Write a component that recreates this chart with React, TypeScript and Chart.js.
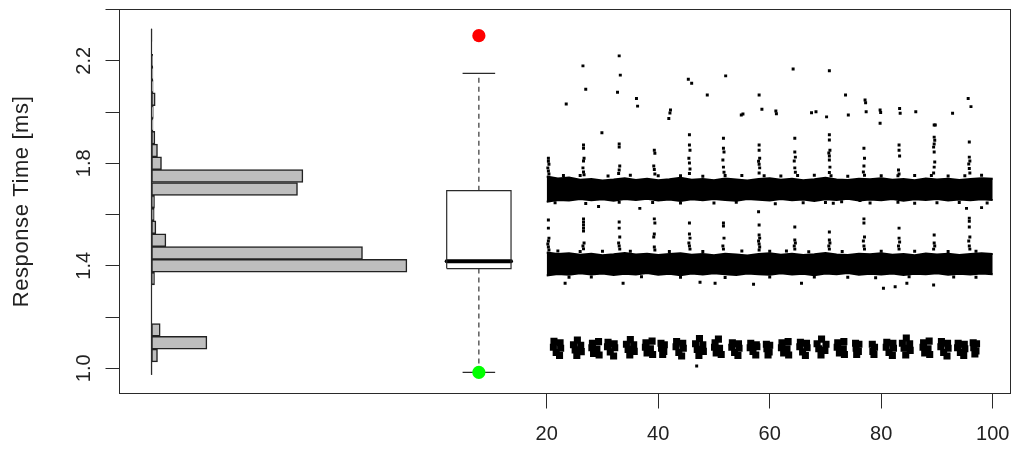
import React, { useEffect, useRef } from "react";
import { Chart, registerables } from "chart.js";

Chart.register(...registerables);

// ---------- axes ----------
const X_TICKS = [20, 40, 60, 80, 100];
const X_LABELS = ["20", "40", "60", "80", "100"];
const Y_TICKS = [1.0, 1.2, 1.4, 1.6, 1.8, 2.0, 2.2, 2.4];
const Y_LABELS = ["1.0", "", "1.4", "", "1.8", "", "2.2", ""];
const Y_TITLE = "Response Time [ms]";

// ---------- histogram (horizontal) ----------
const HIST_BINS = [1.0, 1.05, 1.1, 1.15, 1.35, 1.4, 1.45, 1.5, 1.55, 1.6, 1.65, 1.7, 1.75, 1.8, 1.85, 1.9, 1.95, 2.0, 2.05, 2.1, 2.15, 2.2, 2.3];
const HIST_COUNTS = [5, 60, 554, 87, 30, 2554, 2110, 144, 44, 27, 30, 1460, 1514, 100, 60, 34, 15, 18, 37, 16, 14, 12, 5];
const HIST_RANGE = [0.975, 2.325];

// ---------- boxplot ----------
const BOX_POS = [7.83];
const BOX_STATS = [0.984, 1.389, 1.4175, 1.693, 2.151]; // lower whisker, Q1, median, Q3, upper whisker
const BOX_MAX = [2.298];
const BOX_MIN = [0.984];

// ---------- dense bands (envelopes) ----------
const BAND_X = [20, 22, 24, 26, 28, 30, 32, 34, 36, 38, 40, 42, 44, 46, 48, 50, 52, 54, 56, 58, 60, 62, 64, 66, 68, 70, 72, 74, 76, 78, 80, 82, 84, 86, 88, 90, 92, 94, 96, 98, 100];
const UPPER_TOP = [1.748, 1.741, 1.744, 1.736, 1.739, 1.733, 1.737, 1.742, 1.735, 1.74, 1.734, 1.738, 1.743, 1.736, 1.739, 1.734, 1.741, 1.737, 1.733, 1.739, 1.742, 1.736, 1.74, 1.734, 1.738, 1.743, 1.737, 1.735, 1.74, 1.738, 1.742, 1.736, 1.739, 1.734, 1.741, 1.737, 1.74, 1.735, 1.739, 1.742, 1.74];
const UPPER_BOTTOM = [1.65, 1.657, 1.655, 1.661, 1.656, 1.66, 1.654, 1.661, 1.657, 1.662, 1.655, 1.659, 1.653, 1.66, 1.656, 1.661, 1.657, 1.654, 1.661, 1.658, 1.655, 1.661, 1.656, 1.659, 1.653, 1.66, 1.657, 1.662, 1.655, 1.659, 1.656, 1.661, 1.654, 1.66, 1.657, 1.661, 1.655, 1.659, 1.656, 1.66, 1.657];
const LOWER_TOP = [1.452, 1.446, 1.449, 1.443, 1.447, 1.441, 1.445, 1.45, 1.444, 1.447, 1.442, 1.446, 1.449, 1.443, 1.446, 1.441, 1.447, 1.444, 1.44, 1.446, 1.449, 1.443, 1.447, 1.442, 1.445, 1.45, 1.444, 1.442, 1.447, 1.445, 1.449, 1.443, 1.446, 1.441, 1.448, 1.444, 1.447, 1.442, 1.446, 1.449, 1.446];
const LOWER_BOTTOM = [1.362, 1.368, 1.365, 1.371, 1.366, 1.37, 1.364, 1.369, 1.366, 1.372, 1.365, 1.369, 1.363, 1.37, 1.366, 1.371, 1.367, 1.364, 1.37, 1.367, 1.365, 1.371, 1.366, 1.369, 1.363, 1.37, 1.367, 1.372, 1.365, 1.369, 1.366, 1.37, 1.364, 1.369, 1.367, 1.371, 1.365, 1.369, 1.366, 1.37, 1.367];

// ---------- individual points ----------
const UPPER_SPIKES: number[][] = [
  [20.3, 1.82], [20.3, 1.808], [20.4, 1.796], [20.2, 1.782], [20.3, 1.77], [20.4, 1.758],
  [26.6, 1.871], [26.6, 1.859], [26.7, 1.82], [26.6, 1.809], [26.5, 1.782], [26.6, 1.766], [26.7, 1.755],
  [33.0, 1.875], [33.0, 1.863], [33.1, 1.789], [33.0, 1.774], [32.9, 1.76],
  [39.3, 1.851], [39.4, 1.839], [39.2, 1.789], [39.3, 1.776], [39.4, 1.758],
  [45.6, 1.911], [45.6, 1.871], [45.7, 1.851], [45.5, 1.82], [45.6, 1.801], [45.7, 1.778], [45.6, 1.76],
  [51.7, 1.898], [51.7, 1.859], [51.8, 1.844], [51.6, 1.813], [51.7, 1.785], [51.8, 1.765],
  [58.1, 1.871], [58.1, 1.851], [58.2, 1.82], [58.0, 1.808], [58.1, 1.796], [58.2, 1.782], [58.1, 1.762],
  [64.5, 1.898], [64.5, 1.844], [64.6, 1.824], [64.4, 1.809], [64.5, 1.782], [64.6, 1.765],
  [70.7, 1.911], [70.7, 1.891], [70.8, 1.851], [70.6, 1.84], [70.7, 1.828], [70.7, 1.813], [70.8, 1.785], [70.7, 1.764],
  [76.9, 1.859], [77.0, 1.82], [76.9, 1.789], [76.8, 1.766],
  [83.2, 1.871], [83.2, 1.851], [83.3, 1.828], [83.1, 1.774], [83.2, 1.758],
  [89.5, 1.949], [89.5, 1.902], [89.6, 1.89], [89.5, 1.875], [89.4, 1.863], [89.5, 1.844], [89.6, 1.805], [89.5, 1.785], [89.4, 1.762],
  [95.8, 1.883], [95.8, 1.824], [95.9, 1.809], [95.7, 1.797], [95.8, 1.78], [95.9, 1.762],
];
const LOWER_SPIKES: number[][] = [
  [20.3, 1.579], [20.3, 1.547], [20.4, 1.508], [20.3, 1.497], [20.2, 1.485], [20.3, 1.473], [20.4, 1.462],
  [26.6, 1.583], [26.6, 1.571], [26.6, 1.559], [26.6, 1.547], [26.6, 1.536], [26.7, 1.489], [26.5, 1.477], [26.6, 1.466],
  [33.0, 1.571], [33.0, 1.547], [33.1, 1.512], [32.9, 1.489], [33.0, 1.477], [33.1, 1.465],
  [39.3, 1.583], [39.4, 1.567], [39.3, 1.524], [39.2, 1.512], [39.3, 1.473], [39.4, 1.462],
  [45.6, 1.567], [45.6, 1.524], [45.7, 1.508], [45.5, 1.489], [45.6, 1.477], [45.7, 1.465],
  [51.7, 1.567], [51.7, 1.555], [51.8, 1.508], [51.6, 1.477], [51.7, 1.465],
  [58.1, 1.559], [58.1, 1.52], [58.2, 1.508], [58.0, 1.497], [58.1, 1.485], [58.2, 1.473], [58.1, 1.462],
  [64.5, 1.551], [64.5, 1.501], [64.6, 1.489], [64.4, 1.477], [64.5, 1.465],
  [70.7, 1.532], [70.7, 1.501], [70.8, 1.489], [70.6, 1.477], [70.7, 1.465],
  [76.9, 1.583], [76.9, 1.567], [77.0, 1.512], [76.8, 1.497], [76.9, 1.477], [77.0, 1.465],
  [83.2, 1.547], [83.2, 1.508], [83.3, 1.493], [83.1, 1.477], [83.2, 1.465],
  [89.5, 1.52], [89.5, 1.489], [89.6, 1.477], [89.4, 1.465],
  [95.8, 1.586], [95.8, 1.574], [95.8, 1.551], [95.9, 1.512], [95.7, 1.497], [95.8, 1.477], [95.9, 1.465],
];
const HIGH_OUTLIERS: number[][] = [
  [23.5, 2.031], [26.5, 2.18], [27.0, 2.089], [29.9, 1.919], [33.0, 2.219], [33.2, 2.144], [32.7, 2.077],
  [36.1, 2.053], [36.3, 2.023], [41.9, 1.975], [42.2, 2.008], [42.1, 1.996], [45.4, 2.128], [46.0, 2.112],
  [48.8, 2.066], [52.1, 2.141], [54.9, 1.988], [55.2, 1.992], [58.1, 2.066], [58.6, 2.011], [61.1, 2.004],
  [61.2, 1.993], [64.2, 2.168], [67.5, 1.997], [68.3, 2.001], [70.2, 1.981], [70.7, 2.161], [73.6, 2.066],
  [74.1, 1.988], [77.1, 2.047], [77.2, 2.036], [77.3, 2.001], [79.8, 2.008], [79.9, 1.998], [79.8, 1.956],
  [83.3, 2.014], [83.4, 1.995], [86.2, 2.001], [89.7, 1.949], [92.8, 1.995], [95.6, 2.053], [96.1, 2.021],
];
const MID_OUTLIERS: number[][] = [
  [29.3, 1.631], [36.7, 1.624], [58.0, 1.611], [71.4, 1.644], [72.9, 1.65], [76.2, 1.655], [95.3, 1.624], [98.0, 1.627],
  [27.0, 1.643], [44.0, 1.645], [61.0, 1.642], [86.0, 1.644],
  [21.5, 1.646], [33.0, 1.648], [39.0, 1.647], [50.0, 1.645], [54.0, 1.648], [66.0, 1.646], [70.0, 1.647],
  [78.0, 1.645], [83.0, 1.648], [90.0, 1.646], [94.0, 1.647], [99.0, 1.645],
  [23.0, 1.752], [31.0, 1.75], [40.0, 1.751], [48.0, 1.749], [55.0, 1.752], [62.0, 1.75], [68.0, 1.753],
  [74.0, 1.749], [80.0, 1.751], [86.0, 1.752], [92.0, 1.75], [98.0, 1.753],
  [26.0, 1.752], [35.0, 1.753], [44.0, 1.751], [52.0, 1.752], [59.0, 1.751], [65.0, 1.752], [71.0, 1.751],
  [77.0, 1.753], [83.0, 1.751], [89.0, 1.752], [95.0, 1.751],
];
const LOW_OUTLIERS: number[][] = [
  [23.3, 1.332], [33.7, 1.332], [47.5, 1.336], [50.2, 1.332], [57.1, 1.328], [65.7, 1.332], [80.4, 1.312],
  [82.5, 1.318], [84.6, 1.332], [89.4, 1.325], [24.0, 1.355], [37.0, 1.357], [52.0, 1.354], [68.0, 1.356],
  [79.0, 1.353], [93.0, 1.356], [46.9, 1.009],
  [28.0, 1.356], [44.0, 1.355], [60.0, 1.356], [74.0, 1.355], [85.0, 1.357], [97.0, 1.355],
  [30.0, 1.457], [42.0, 1.456], [55.0, 1.458], [67.0, 1.455], [80.0, 1.457], [92.0, 1.456],
  [22.0, 1.458], [26.0, 1.456], [35.0, 1.457], [48.0, 1.456], [60.0, 1.457], [63.0, 1.458], [73.0, 1.456],
  [86.0, 1.457], [97.0, 1.457],
];
const LOW_CLUMPS: number[][] = [
  [21.3, 1.105], [22.4, 1.1], [21.2, 1.082], [22.5, 1.078], [21.7, 1.062], [22.3, 1.05],
  [25.5, 1.11], [24.8, 1.092], [26.1, 1.09], [25.1, 1.072], [26.2, 1.065], [25.4, 1.05],
  [28.2, 1.098], [29.3, 1.104], [28.1, 1.08], [29.0, 1.075], [28.4, 1.058], [29.4, 1.052],
  [31.0, 1.102], [32.1, 1.096], [30.9, 1.084], [32.2, 1.08], [31.4, 1.064], [32.0, 1.048],
  [35.0, 1.112], [34.3, 1.094], [35.6, 1.092], [34.6, 1.074], [35.7, 1.066], [34.9, 1.052],
  [37.8, 1.1], [38.9, 1.106], [37.7, 1.082], [38.6, 1.076], [38.0, 1.06], [39.0, 1.054],
  [40.5, 1.098], [41.1, 1.092], [40.6, 1.078], [41.0, 1.066], [40.8, 1.054],
  [43.3, 1.104], [44.4, 1.098], [43.2, 1.084], [44.5, 1.078], [43.7, 1.062], [44.2, 1.048],
  [47.4, 1.116], [46.7, 1.096], [48.0, 1.092], [47.0, 1.074], [48.1, 1.066], [47.3, 1.05],
  [50.2, 1.1], [50.8, 1.114], [50.1, 1.082], [51.0, 1.078], [50.4, 1.06], [51.3, 1.054],
  [53.3, 1.1], [54.4, 1.096], [53.2, 1.082], [54.5, 1.078], [53.7, 1.062], [54.3, 1.05],
  [56.6, 1.098], [57.6, 1.092], [56.5, 1.08], [57.7, 1.084], [57.0, 1.066], [57.5, 1.052],
  [59.4, 1.094], [60.0, 1.09], [59.5, 1.076], [59.9, 1.064], [59.7, 1.052],
  [62.2, 1.1], [63.3, 1.104], [62.1, 1.08], [63.1, 1.076], [62.5, 1.06], [63.4, 1.052],
  [65.5, 1.102], [66.6, 1.098], [65.4, 1.084], [66.7, 1.08], [65.9, 1.064], [66.4, 1.05],
  [69.3, 1.114], [68.5, 1.096], [70.1, 1.094], [68.8, 1.076], [69.9, 1.07], [69.2, 1.052],
  [72.2, 1.1], [73.3, 1.104], [72.1, 1.082], [73.2, 1.076], [72.5, 1.06], [73.4, 1.054],
  [75.4, 1.098], [76.0, 1.094], [75.5, 1.078], [75.9, 1.066], [75.6, 1.054],
  [78.4, 1.094], [78.8, 1.082], [78.5, 1.066], [78.7, 1.054],
  [81.0, 1.102], [82.1, 1.098], [80.9, 1.082], [82.2, 1.078], [81.4, 1.062], [82.0, 1.05],
  [84.5, 1.118], [83.8, 1.098], [85.1, 1.096], [84.1, 1.078], [85.2, 1.07], [84.4, 1.052],
  [87.6, 1.1], [88.6, 1.106], [87.5, 1.082], [88.4, 1.076], [87.8, 1.06], [88.7, 1.054],
  [90.8, 1.104], [91.9, 1.098], [90.7, 1.084], [92.0, 1.078], [91.2, 1.062], [91.8, 1.048],
  [93.8, 1.098], [94.9, 1.094], [93.7, 1.08], [95.0, 1.076], [94.2, 1.062], [94.8, 1.05],
  [96.5, 1.1], [97.1, 1.096], [96.6, 1.08], [97.0, 1.068], [96.8, 1.056],
];

// ---------- geometry (styles/sizes, not data) ----------
const CANVAS_W = 1013;
const CANVAS_H = 453;
const BOX_HALF = 5.77;
const CAP_HALF = 2.92;
const INK = "#2a2a2a";
const FONT = '"Liberation Sans", Arial, Helvetica, sans-serif';

const toPts = (arr: number[][]) => arr.map(([x, y]) => ({ x, y }));

const axesPlugin = {
  id: "rStyleAxes",
  afterDraw(chart: any) {
    const { ctx, chartArea: a, scales } = chart;
    const xs = scales.x;
    const ys = scales.y;
    ctx.save();
    ctx.strokeStyle = INK;
    ctx.lineWidth = 1;
    ctx.strokeRect(a.left, a.top, a.right - a.left, a.bottom - a.top);
    ctx.beginPath();
    Y_TICKS.forEach((v) => {
      const p = Math.round(ys.getPixelForValue(v) - 0.5) + 0.5;
      ctx.moveTo(a.left - 14, p);
      ctx.lineTo(a.left, p);
    });
    X_TICKS.forEach((v) => {
      const p = Math.round(xs.getPixelForValue(v) - 0.5) + 0.5;
      ctx.moveTo(p, a.bottom);
      ctx.lineTo(p, a.bottom + 15);
    });
    ctx.stroke();

    ctx.fillStyle = "#222222";
    ctx.font = `20px ${FONT}`;
    ctx.textAlign = "center";
    ctx.textBaseline = "alphabetic";
    X_TICKS.forEach((v, i) => {
      ctx.fillText(X_LABELS[i], xs.getPixelForValue(v), 440);
    });
    Y_TICKS.forEach((v, i) => {
      if (!Y_LABELS[i]) return;
      ctx.save();
      ctx.translate(90, ys.getPixelForValue(v));
      ctx.rotate(-Math.PI / 2);
      ctx.fillText(Y_LABELS[i], 0, 0);
      ctx.restore();
    });
    ctx.save();
    ctx.translate(28, (a.top + a.bottom) / 2);
    ctx.rotate(-Math.PI / 2);
    ctx.font = `22px ${FONT}`;
    (ctx as any).letterSpacing = "0.6px";
    ctx.fillText(Y_TITLE, 0, 0);
    ctx.restore();
    ctx.restore();
  },
};

export default function App() {
  const ref = useRef<HTMLCanvasElement | null>(null);

  useEffect(() => {
    if (!ref.current) return;
    const c = BOX_POS[0];
    const [wLo, q1, med, q3, wHi] = BOX_STATS;
    const seg = (pts: { x: number; y: number }[], extra: any = {}) => ({
      type: "line",
      data: pts,
      borderColor: INK,
      borderWidth: 1.2,
      pointRadius: 0,
      fill: false,
      tension: 0,
      order: 2,
      ...extra,
    });
    const dots = (arr: number[][], r: number) => ({
      type: "scatter",
      data: toPts(arr),
      pointStyle: "rect",
      pointRadius: r,
      pointBorderWidth: 0,
      backgroundColor: "#000000",
      borderColor: "#000000",
      order: 3,
    });
    const band = (vals: number[], fill: any) => ({
      type: "line",
      data: BAND_X.map((x, i) => ({ x, y: vals[i] })),
      borderColor: "#000000",
      backgroundColor: "#000000",
      borderWidth: 2,
      pointRadius: 0,
      tension: 0,
      fill,
      order: 6,
    });

    const chart = new Chart(ref.current, {
      type: "scatter",
      data: {
        datasets: [
          // histogram
          {
            type: "bar",
            indexAxis: "y",
            xAxisID: "xh",
            yAxisID: "y",
            data: HIST_BINS.map((b, i) => ({ y: b, x: [0, HIST_COUNTS[i]] })),
            backgroundColor: "#BEBEBE",
            borderColor: "#222222",
            borderWidth: 1.5,
            borderSkipped: false,
            grouped: false,
            barPercentage: 1,
            categoryPercentage: 1,
            order: 5,
          } as any,
          seg([{ x: 0, y: HIST_RANGE[0] }, { x: 0, y: HIST_RANGE[1] }], { xAxisID: "xh", order: 4 }),
          // bands: top fills down to bottom (next dataset)
          band(UPPER_TOP, "+1") as any,
          band(UPPER_BOTTOM, false) as any,
          band(LOWER_TOP, "+1") as any,
          band(LOWER_BOTTOM, false) as any,
          // scatter points
          dots(UPPER_SPIKES, 2.1) as any,
          dots(LOWER_SPIKES, 2.1) as any,
          dots(HIGH_OUTLIERS, 2.1) as any,
          dots(MID_OUTLIERS, 2.1) as any,
          dots(LOW_OUTLIERS, 2.1) as any,
          dots(LOW_CLUMPS, 5) as any,
          // boxplot
          seg(
            [
              { x: c - BOX_HALF, y: q1 },
              { x: c + BOX_HALF, y: q1 },
              { x: c + BOX_HALF, y: q3 },
              { x: c - BOX_HALF, y: q3 },
              { x: c - BOX_HALF, y: q1 },
            ],
            { borderJoinStyle: "miter" }
          ) as any,
          seg([{ x: c - BOX_HALF, y: med }, { x: c + BOX_HALF, y: med }], {
            borderWidth: 4,
            borderColor: "#000000",
            borderCapStyle: "round",
          }) as any,
          seg([{ x: c, y: q3 }, { x: c, y: wHi }], { borderDash: [5, 4], borderColor: "#333333" }) as any,
          seg([{ x: c, y: q1 }, { x: c, y: wLo }], { borderDash: [5, 4], borderColor: "#333333" }) as any,
          seg([{ x: c - CAP_HALF, y: wHi }, { x: c + CAP_HALF, y: wHi }]) as any,
          seg([{ x: c - CAP_HALF, y: wLo }, { x: c + CAP_HALF, y: wLo }]) as any,
          {
            type: "scatter",
            data: BOX_MAX.map((y) => ({ x: c, y })),
            pointRadius: 6.6,
            pointBorderWidth: 0,
            backgroundColor: "#FF0000",
            order: 0,
          } as any,
          {
            type: "scatter",
            data: BOX_MIN.map((y) => ({ x: c, y })),
            pointRadius: 6.6,
            pointBorderWidth: 0,
            backgroundColor: "#00FF00",
            order: 0,
          } as any,
        ],
      },
      options: {
        animation: false,
        responsive: false,
        devicePixelRatio: 1,
        events: [],
        layout: { autoPadding: false, padding: { left: 119.5, top: 9.5, right: 2.5, bottom: 59.5 } },
        plugins: { legend: { display: false }, tooltip: { enabled: false } },
        scales: {
          x: { type: "linear", min: -56.63, max: 103.19, offset: false, display: false },
          xh: { type: "linear", min: -320, max: 8590, offset: false, beginAtZero: false, display: false },
          y: { type: "linear", min: 0.9017, max: 2.4, offset: false, grid: { offset: false }, display: false },
        },
      } as any,
      plugins: [axesPlugin as any],
    } as any);
    return () => chart.destroy();
  }, []);

  return (
    <div style={{ position: "fixed", left: 0, top: 0, width: CANVAS_W, height: CANVAS_H, background: "#ffffff" }}>
      <canvas ref={ref} width={CANVAS_W} height={CANVAS_H} style={{ display: "block" }} />
    </div>
  );
}
